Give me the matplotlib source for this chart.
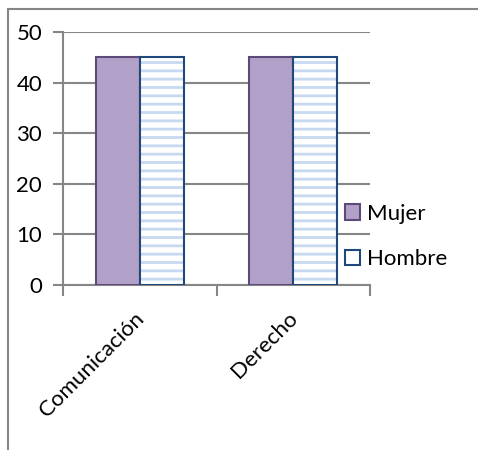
import numpy as np
import matplotlib.pyplot as plt
import matplotlib.transforms as mtransforms
from matplotlib.patches import Patch
from matplotlib.lines import Line2D

categorias = ['Comunicación', 'Derecho']
mujer = [45, 45]
hombre = [45, 45]
yticks = [0, 10, 20, 30, 40, 50]

plt.rcParams['font.family'] = ['Lato', 'DejaVu Sans']
plt.rcParams['hatch.linewidth'] = 2.0

fig = plt.figure(figsize=(4.78, 4.5), dpi=100, facecolor='w')
ax = fig.add_axes([63 / 478, 1 - 285 / 450, 307 / 478, 253 / 450])

x = np.arange(len(categorias))
w = 0.2875
gris = '#868686'

ax.bar(x - w / 2, mujer, w, color='#b1a0c7', edgecolor='#5f497a', linewidth=1.5, zorder=3)
# relleno rayado para Hombre
ax.bar(x + w / 2, hombre, w, color='white', edgecolor='#c6d9f1', hatch='--', linewidth=0, zorder=3)
ax.bar(x + w / 2, hombre, w, fill=False, edgecolor='#1f497d', linewidth=1.5, zorder=4)

ax.set_xlim(-0.5, 1.5)
ax.set_ylim(0, 50)
ax.set_yticks(yticks)
ax.yaxis.grid(True, color=gris, linewidth=1.5, zorder=0)
ax.set_axisbelow(True)

ax.set_xticks([-0.5, 0.5, 1.5])
ax.set_xticklabels([])
ax.tick_params(axis='x', length=8, width=1.5, color=gris, direction='out')
ax.tick_params(axis='y', length=7, width=1.5, color=gris, direction='out', pad=8, labelsize=16)

for s in ['top', 'right']:
    ax.spines[s].set_visible(False)
for s in ['left', 'bottom']:
    ax.spines[s].set_color(gris)
    ax.spines[s].set_linewidth(1.5)

off = mtransforms.offset_copy(ax.get_xaxis_transform(), fig=fig, x=8, y=-23, units='dots')
for i, c in enumerate(categorias):
    ax.text(i, 0, c, rotation=45, ha='right', va='top', fontsize=16, transform=off)

handles = [Patch(facecolor='#b1a0c7', edgecolor='#5f497a', linewidth=1.5),
           Patch(facecolor='white', edgecolor='#1f497d', linewidth=1.5)]
fig.legend(handles, ['Mujer', 'Hombre'], loc='upper left', bbox_to_anchor=(336 / 478, 1 - 195 / 450),
           frameon=False, fontsize=16, handlelength=0.7, handleheight=0.7,
           handletextpad=0.3, labelspacing=1.15, borderaxespad=0)

# marco del gráfico
fig.add_artist(Line2D([8 / 478, 8 / 478], [0, 1 - 9 / 450], transform=fig.transFigure, color=gris, linewidth=1.5))
fig.add_artist(Line2D([8 / 478, 1], [1 - 9 / 450, 1 - 9 / 450], transform=fig.transFigure, color=gris, linewidth=1.5))

fig.savefig('out.png', dpi=100, facecolor='w')
